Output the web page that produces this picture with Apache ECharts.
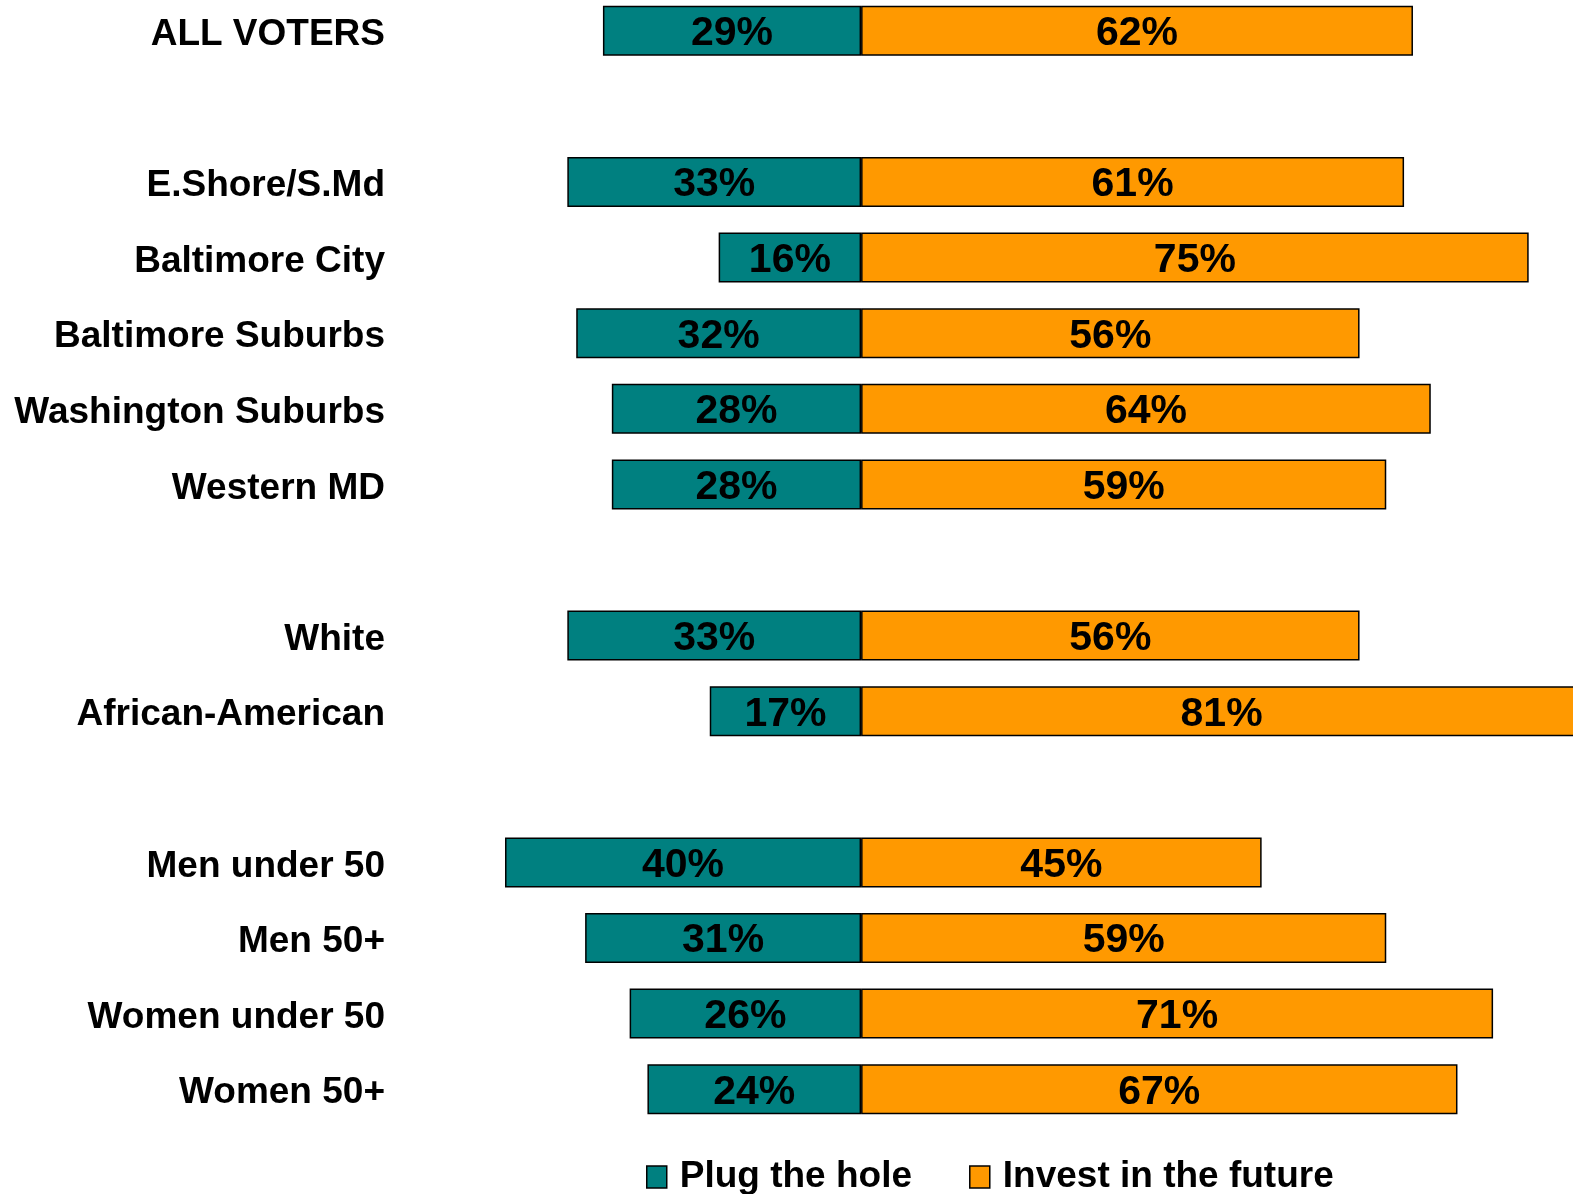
<!DOCTYPE html>
<html>
<head>
<meta charset="utf-8">
<script src="https://cdn.jsdelivr.net/npm/echarts@6/dist/echarts.min.js"></script>
<style>
  html, body { margin: 0; padding: 0; background: #fff; }
  #chart { width: 1573px; height: 1194px; }
</style>
</head>
<body>
<div id="chart"></div>
<script>
// rows top to bottom, blank strings are the spacer slots between groups
const categories = [
  'ALL VOTERS', ' ',
  'E.Shore/S.Md', 'Baltimore City', 'Baltimore Suburbs', 'Washington Suburbs', 'Western MD', '  ',
  'White', 'African-American', '   ',
  'Men under 50', 'Men 50+', 'Women under 50', 'Women 50+'
];
const plugTheHole = [29, null, 33, 16, 32, 28, 28, null, 33, 17, null, 40, 31, 26, 24];
const investFuture = [62, null, 61, 75, 56, 64, 59, null, 56, 81, null, 45, 59, 71, 67];

const FONT = '"Liberation Sans", Arial, sans-serif';

const chart = echarts.init(document.getElementById('chart'));

const labelStyle = {
  show: true,
  position: 'inside',
  offset: [0, 3],
  color: '#000',
  fontFamily: FONT,
  fontWeight: 'bold',
  fontSize: 41,
  formatter: (p) => Math.abs(p.value) + '%'
};

chart.setOption({
  animation: false,
  grid: { left: 416, top: -7, width: 1175, height: 1134, containLabel: false, outerBoundsMode: 'none' },
  legend: {
    left: 641,
    top: 1149,
    icon: 'rect',
    itemWidth: 20,
    itemHeight: 22,
    itemGap: 57,
    textStyle: { color: '#000', fontFamily: FONT, fontWeight: 'bold', fontSize: 37, lineHeight: 46, padding: [0, 0, 0, 8] },
    itemStyle: { borderColor: '#000', borderWidth: 1.5 },
    data: ['Plug the hole', 'Invest in the future']
  },
  xAxis: {
    type: 'value',
    min: -50,
    max: 82,
    show: false
  },
  yAxis: {
    type: 'category',
    inverse: true,
    data: categories,
    axisLine: { show: false },
    axisTick: { show: false },
    axisLabel: {
      margin: 31,
      color: '#000',
      formatter: (v) => '{t|' + v + '}',
      rich: {
        t: {
          color: '#000',
          fontFamily: FONT,
          fontWeight: 'bold',
          fontSize: 37,
          lineHeight: 44,
          padding: [8, 0, 0, 0]
        }
      }
    }
  },
  series: [
    {
      name: 'Plug the hole',
      type: 'bar',
      stack: 'total',
      barWidth: 50,
      itemStyle: { color: '#008080', borderColor: '#000', borderWidth: 1.5 },
      label: labelStyle,
      data: plugTheHole.map(v => v == null ? null : -v)
    },
    {
      name: 'Invest in the future',
      type: 'bar',
      stack: 'total',
      barWidth: 50,
      itemStyle: { color: '#FF9900', borderColor: '#000', borderWidth: 1.5 },
      label: labelStyle,
      data: investFuture
    }
  ]
});
</script>
</body>
</html>
